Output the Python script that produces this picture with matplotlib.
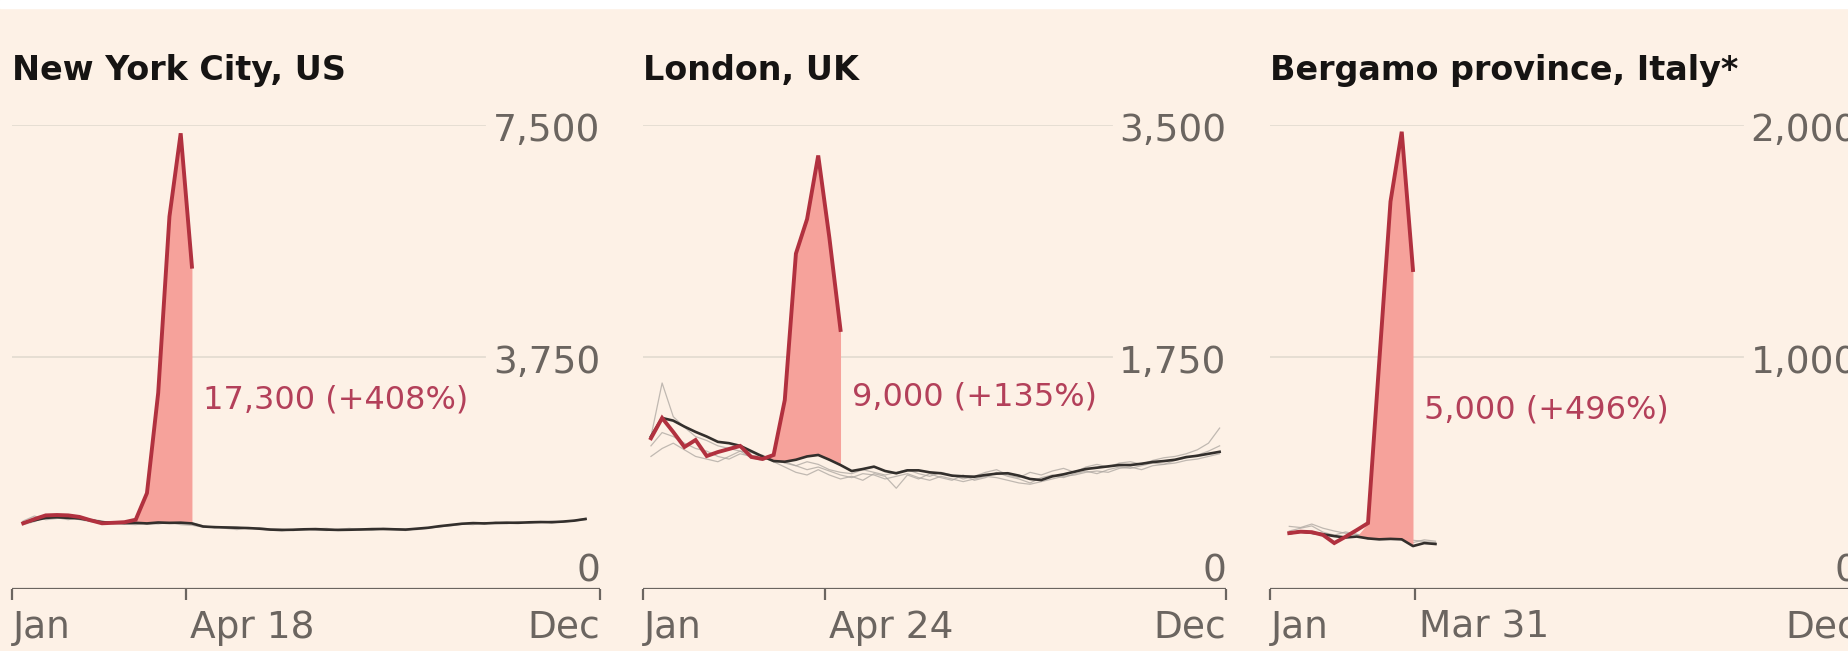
import matplotlib
matplotlib.use("Agg")
import matplotlib.pyplot as plt
from matplotlib.patches import Rectangle

# ---- data (weekly deaths) ----
titles = ["New York City, US", "London, UK", "Bergamo province, Italy*"]
y_ticks = [[0, 3750, 7500], [0, 1750, 3500], [0, 1000, 2000]]
y_tick_labels = [["0", "3,750", "7,500"], ["0", "1,750", "3,500"], ["0", "1,000", "2,000"]]
mid_tick_day = [108, 114, 90]
mid_tick_label = ["Apr 18", "Apr 24", "Mar 31"]
notes = ["17,300 (+408%)", "9,000 (+135%)", "5,000 (+496%)"]
fill_from = [77, 82, 61]

nyc_days = list(range(7, 358, 7))
nyc_2020 = [1062, 1130, 1190, 1196, 1190, 1165, 1110, 1062, 1070, 1080,
            1120, 1550, 3170, 6020, 7366, 5210]
nyc_avg = [1069, 1110, 1150, 1160, 1150, 1140, 1110, 1080, 1070, 1065,
           1069, 1060, 1075, 1069, 1072, 1060, 1010, 1000, 995, 990,
           985, 975, 960, 955, 958, 965, 968, 960, 955, 958,
           962, 968, 970, 965, 960, 975, 990, 1015, 1035, 1055,
           1065, 1060, 1068, 1072, 1070, 1078, 1082, 1080, 1090, 1105,
           1132]
nyc_prev = [
    [1100, 1180, 1120, 1140, 1170, 1120, 1090, 1060, 1090, 1050,
     1040, 1070, 1050, 1080, 1040, 1030, 1000, 1010, 980, 960,
     990, 970, 950, 940, 960, 975, 950, 945, 965, 980,
     955, 950, 970, 960, 945, 975, 990, 1000, 1030, 1050,
     1040, 1075, 1060, 1055, 1080, 1065, 1090, 1070, 1085, 1110,
     1140],
    [1040, 1090, 1170, 1150, 1120, 1160, 1130, 1100, 1060, 1080,
     1090, 1050, 1060, 1090, 1080, 1070, 1020, 990, 1005, 1000,
     975, 990, 970, 965, 945, 955, 975, 980, 950, 960,
     975, 955, 980, 975, 970, 960, 980, 1010, 1020, 1045,
     1070, 1050, 1080, 1060, 1085, 1070, 1075, 1095, 1080, 1100,
     1120],
]

ldn_days = list(range(5, 363, 7))
ldn_2020 = [1137, 1290, 1184, 1071, 1124, 1003, 1033, 1056, 1079, 996,
            981, 1011, 1425, 2530, 2790, 3270, 2650, 1954]
ldn_avg = [1150, 1290, 1270, 1225, 1185, 1150, 1110, 1100, 1080, 1040,
           1000, 965, 960, 975, 1000, 1011, 975, 935, 890, 905,
           923, 890, 873, 895, 895, 880, 873, 855, 850, 847,
           860, 870, 873, 855, 830, 822, 850, 865, 885, 905,
           915, 925, 935, 935, 945, 958, 965, 975, 995, 1005,
           1020, 1035]
ldn_prev = [
    [1150, 1554, 1300, 1220, 1150, 1120, 1080, 1060, 1040, 1030,
     1000, 980, 950, 930, 960, 940, 900, 880, 870, 900,
     880, 860, 880, 900, 870, 850, 880, 860, 830, 850,
     880, 900, 860, 840, 880, 860, 890, 910, 880, 920,
     940, 920, 950, 960, 940, 970, 990, 1000, 1020, 1050,
     1100, 1214],
    [1000, 1060, 1100, 1050, 1000, 980, 960, 1000, 1040, 990,
     970, 1000, 960, 930, 900, 920, 890, 860, 840, 870,
     860, 830, 850, 870, 840, 820, 850, 830, 810, 830,
     850, 840, 820, 800, 790, 810, 830, 850, 860, 880,
     890, 880, 910, 920, 900, 930, 940, 950, 970, 980,
     1000, 1020],
    [1080, 1180, 1150, 1100, 1060, 1040, 1000, 980, 1020, 1000,
     1010, 960, 920, 880, 860, 900, 860, 830, 850, 820,
     870, 850, 760, 860, 830, 870, 840, 820, 860, 820,
     840, 880, 850, 830, 800, 840, 860, 840, 870, 890,
     870, 900, 920, 910, 930, 950, 940, 970, 990, 1010,
     1040, 1080],
]

bgm_days = list(range(12, 104, 7))
bgm_2020 = [241, 247, 245, 233, 198, 225, 254, 284, 980, 1670, 1971, 1375]
bgm_avg = [240, 248, 242, 236, 228, 222, 226, 218, 214, 216, 214, 185, 198, 194]
bgm_prev = [
    [270, 265, 280, 262, 250, 240, 235, 228, 222, 218, 224, 210, 205, 200],
    [250, 262, 272, 245, 232, 246, 236, 215, 232, 226, 212, 200, 212, 206],
]

cities = [
    (nyc_days, nyc_2020, nyc_avg, nyc_prev),
    (ldn_days, ldn_2020, ldn_avg, ldn_prev),
    (bgm_days, bgm_2020, bgm_avg, bgm_prev),
]

# ---- style / layout ----
W, H = 1849, 651
CREAM = "#fdf1e6"
RED = "#b1313f"
FILL = "#f6a29b"
NOTE = "#b3405a"
GREY_TXT = "#6b6560"
GRID = "#e4dcd2"
panel_x = [(12, 600), (643, 1226), (1270, 1858)]
y_top, y_zero = 125, 589
note_y = [0.407, 0.414, 0.386]

plt.rcParams["font.family"] = ["DejaVu Sans"]

fig = plt.figure(figsize=(W / 100, H / 100), dpi=100)
fig.patch.set_facecolor(CREAM)
fig.add_artist(Rectangle((0, 1 - 8 / H), 1, 8 / H, transform=fig.transFigure,
                         color="white", zorder=0))

for i, (days, cur, avg, prev) in enumerate(cities):
    x0, x1 = panel_x[i]
    ax = fig.add_axes([x0 / W, (H - y_zero) / H, (x1 - x0) / W, (y_zero - y_top) / H])
    ax.set_facecolor("none")
    ax.set_xlim(0, 366)
    ax.set_ylim(0, y_ticks[i][-1])
    for s in ax.spines.values():
        s.set_visible(False)
    ax.set_xticks([])
    ax.set_yticks([])

    # gridlines and y labels (labels sit inside the plot, right aligned)
    for v, lab in zip(y_ticks[i], y_tick_labels[i]):
        if v == 0:
            ax.axhline(0, color=GREY_TXT, lw=1.6, zorder=2)
            ax.annotate(lab, xy=(1, 0), xycoords=("axes fraction", "data"),
                        xytext=(0, 8), textcoords="offset pixels",
                        ha="right", va="baseline", fontsize=27, color=GREY_TXT)
        else:
            ax.axhline(v, xmin=0, xmax=0.805, color=GRID, lw=1.3, zorder=0)
            ax.annotate(lab, xy=(1, v), xycoords=("axes fraction", "data"),
                        xytext=(0, -16), textcoords="offset pixels",
                        ha="right", va="baseline", fontsize=27, color=GREY_TXT)

    # x ticks
    xtr = ax.get_xaxis_transform()
    for d in [0, mid_tick_day[i], 366]:
        ax.plot([d, d], [0, -11 / (y_zero - y_top)], transform=xtr,
                color=GREY_TXT, lw=1.6, clip_on=False, solid_capstyle="butt")
    for d, lab, ha, dx in [(0, "Jan", "left", 1), (mid_tick_day[i], mid_tick_label[i], "left", 4),
                           (366, "Dec", "right", 0)]:
        ax.annotate(lab, xy=(d, 0), xycoords=("data", "axes fraction"),
                    xytext=(dx, -49), textcoords="offset pixels",
                    ha=ha, va="baseline", fontsize=27, color=GREY_TXT)

    # previous years and average
    for p in prev:
        ax.plot(days[:len(p)], p, color="#aca6a0", lw=0.9, alpha=0.75, zorder=3)
    ax.plot(days[:len(avg)], avg, color="#332f2c", lw=1.9, zorder=4)

    # excess fill + 2020 line
    n = len(cur)
    d_cur = days[:n]
    base = avg[:n]
    ax.fill_between(d_cur, base, cur, where=[d >= fill_from[i] for d in d_cur],
                    color=FILL, lw=0, zorder=3.5, interpolate=True)
    ax.plot(d_cur, cur, color=RED, lw=2.8, zorder=5, solid_joinstyle="miter")

    ax.annotate(notes[i], xy=(d_cur[-1], note_y[i]), xycoords=("data", "axes fraction"),
                xytext=(11, 0), textcoords="offset pixels",
                ha="left", va="center", fontsize=23, color=NOTE)

    ax.annotate(titles[i], xy=(0, 1), xycoords="axes fraction",
                xytext=(0, y_top - 80), textcoords="offset pixels",
                ha="left", va="baseline", fontsize=24, fontweight="bold", color="#161413")

fig.savefig("out.png", dpi=100, facecolor=fig.get_facecolor())
